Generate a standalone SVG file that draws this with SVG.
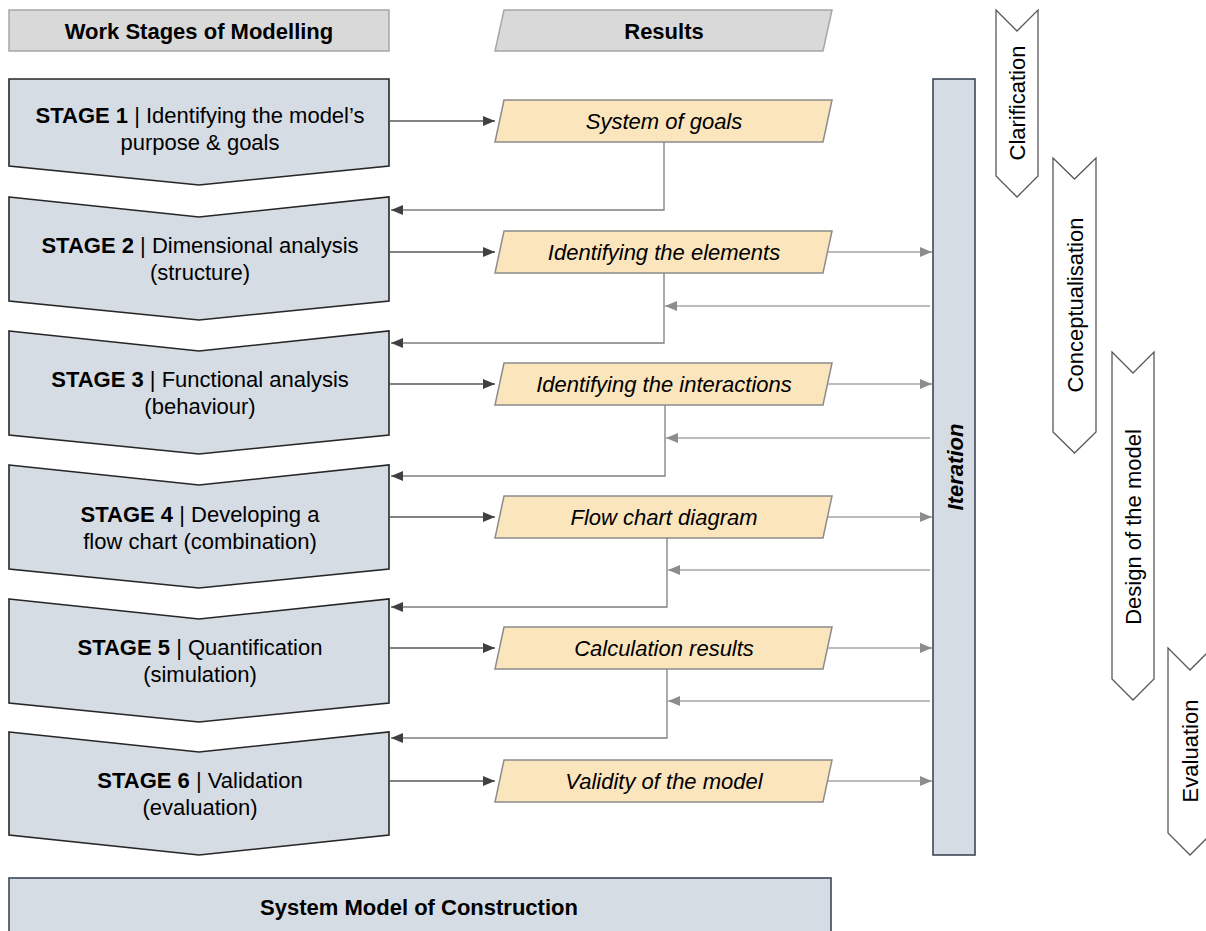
<svg xmlns="http://www.w3.org/2000/svg" width="1206" height="931" viewBox="0 0 1206 931">
  <defs>
    <style>
      text { font-family: "Liberation Sans", Arial, sans-serif; fill: #000; }
      .hdr { fill: #d9d9d9; stroke: #a6a6a6; stroke-width: 1.5; }
      .hdr-t { font-size: 22px; font-weight: bold; text-anchor: middle; }
      .stage { fill: #d6dce4; stroke: #262626; stroke-width: 1.6; stroke-linejoin: miter; }
      .st-t { font-size: 22px; text-anchor: middle; }
      .st-t tspan.b { font-weight: bold; }
      .res { fill: #fbe5bd; stroke: #8c8c8c; stroke-width: 1.5; }
      .res-t { font-size: 22px; font-style: italic; text-anchor: middle; }
      .iter { fill: #d6dce4; stroke: #3d4756; stroke-width: 1.6; }
      .phase { fill: #ffffff; stroke: #595959; stroke-width: 1.3; }
      .phase-t { font-size: 22px; text-anchor: middle; }
      .fwd { stroke: #595959; stroke-width: 1.3; fill: none; marker-end: url(#ahDark); }
      .ret { stroke: #7f7f7f; stroke-width: 1.3; fill: none; marker-end: url(#ahDark); }
      .itr { stroke: #a6a6a6; stroke-width: 1.3; fill: none; marker-end: url(#ahLight); }
    </style>
    <marker id="ahDark" markerUnits="userSpaceOnUse" markerWidth="13" markerHeight="11" refX="12" refY="5" orient="auto">
      <path d="M0,0 L12,5 L0,10 Z" fill="#404040"/>
    </marker>
    <marker id="ahLight" markerUnits="userSpaceOnUse" markerWidth="13" markerHeight="11" refX="12" refY="5" orient="auto">
      <path d="M0,0 L12,5 L0,10 Z" fill="#8c8c8c"/>
    </marker>
  </defs>

  <!-- column headers -->
  <g id="header-stages">
    <rect class="hdr" x="9" y="10" width="380" height="41"/>
    <text class="hdr-t" x="199" y="39">Work Stages of Modelling</text>
  </g>
  <g id="header-results">
    <polygon class="hdr" points="504,10 832,10 823,51 495,51"/>
    <text class="hdr-t" x="664" y="39">Results</text>
  </g>

  <!-- work stages -->
  <g id="stage1">
    <path class="stage" d="M9,79 H389 V166 L199,185 L9,166 Z"/>
    <text class="st-t" x="200" y="123"><tspan class="b">STAGE 1</tspan> | Identifying the model’s</text>
    <text class="st-t" x="200" y="150">purpose &amp; goals</text>
  </g>
  <g id="stage2">
    <path class="stage" d="M9,197 L199,217 L389,197 V301 L199,320 L9,301 Z"/>
    <text class="st-t" x="200" y="253"><tspan class="b">STAGE 2</tspan> | Dimensional analysis</text>
    <text class="st-t" x="200" y="280">(structure)</text>
  </g>
  <g id="stage3">
    <path class="stage" d="M9,331 L199,351 L389,331 V435 L199,454 L9,435 Z"/>
    <text class="st-t" x="200" y="387"><tspan class="b">STAGE 3</tspan> | Functional analysis</text>
    <text class="st-t" x="200" y="414">(behaviour)</text>
  </g>
  <g id="stage4">
    <path class="stage" d="M9,465 L199,485 L389,465 V569 L199,588 L9,569 Z"/>
    <text class="st-t" x="200" y="522"><tspan class="b">STAGE 4</tspan> | Developing a</text>
    <text class="st-t" x="200" y="549">flow chart (combination)</text>
  </g>
  <g id="stage5">
    <path class="stage" d="M9,599 L199,619 L389,599 V703 L199,722 L9,703 Z"/>
    <text class="st-t" x="200" y="655"><tspan class="b">STAGE 5</tspan> | Quantification</text>
    <text class="st-t" x="200" y="682">(simulation)</text>
  </g>
  <g id="stage6">
    <path class="stage" d="M9,732 L199,752 L389,732 V835 L199,855 L9,835 Z"/>
    <text class="st-t" x="200" y="788"><tspan class="b">STAGE 6</tspan> | Validation</text>
    <text class="st-t" x="200" y="815">(evaluation)</text>
  </g>

  <!-- results -->
  <g id="result1">
    <polygon class="res" points="504,100 832,100 823,142 495,142"/>
    <text class="res-t" x="664" y="129">System of goals</text>
  </g>
  <g id="result2">
    <polygon class="res" points="504,231 832,231 823,273 495,273"/>
    <text class="res-t" x="664" y="260">Identifying the elements</text>
  </g>
  <g id="result3">
    <polygon class="res" points="504,363 832,363 823,405 495,405"/>
    <text class="res-t" x="664" y="392">Identifying the interactions</text>
  </g>
  <g id="result4">
    <polygon class="res" points="504,496 832,496 823,538 495,538"/>
    <text class="res-t" x="664" y="525">Flow chart diagram</text>
  </g>
  <g id="result5">
    <polygon class="res" points="504,627 832,627 823,669 495,669"/>
    <text class="res-t" x="664" y="656">Calculation results</text>
  </g>
  <g id="result6">
    <polygon class="res" points="504,760 832,760 823,802 495,802"/>
    <text class="res-t" x="664" y="789">Validity of the model</text>
  </g>

  <!-- iteration bar -->
  <g id="iteration">
    <rect class="iter" x="933" y="79" width="42" height="776"/>
    <text transform="translate(963,467) rotate(-90)" style="font-size:22px;font-weight:bold;font-style:italic;text-anchor:middle">Iteration</text>
  </g>

  <!-- phases -->
  <g id="phase-clarification">
    <path class="phase" d="M996,10 L1017,31 L1038,10 V176 L1017,197 L996,176 Z"/>
    <text class="phase-t" transform="translate(1025,103) rotate(-90)">Clarification</text>
  </g>
  <g id="phase-conceptualisation">
    <path class="phase" d="M1053,158 L1074.5,179 L1096,158 V432 L1074.5,453 L1053,432 Z"/>
    <text class="phase-t" transform="translate(1083,305) rotate(-90)">Conceptualisation</text>
  </g>
  <g id="phase-design">
    <path class="phase" d="M1112,352 L1133,373 L1154,352 V679 L1133,700 L1112,679 Z"/>
    <text class="phase-t" transform="translate(1141,527) rotate(-90)">Design of the model</text>
  </g>
  <g id="phase-evaluation">
    <path class="phase" d="M1168,648 L1190,670 L1212,648 V833 L1190,855 L1168,833 Z"/>
    <text class="phase-t" transform="translate(1198,751) rotate(-90)">Evaluation</text>
  </g>

  <!-- final model -->
  <g id="system-model">
    <rect class="iter" x="9" y="878" width="822" height="70"/>
    <text class="hdr-t" x="419" y="915">System Model of Construction</text>
  </g>

  <!-- connectors -->
  <g id="connectors">
    <!-- stage to result -->
    <line class="fwd" x1="389" y1="121" x2="495" y2="121"/>
    <line class="fwd" x1="389" y1="252" x2="495" y2="252"/>
    <line class="fwd" x1="389" y1="384" x2="495" y2="384"/>
    <line class="fwd" x1="389" y1="517" x2="495" y2="517"/>
    <line class="fwd" x1="389" y1="648" x2="495" y2="648"/>
    <line class="fwd" x1="389" y1="781" x2="495" y2="781"/>

    <!-- result back to next stage -->
    <polyline class="ret" points="664,142 664,210 391,210"/>
    <polyline class="ret" points="664,273 664,343 391,343"/>
    <polyline class="ret" points="665,405 665,476 391,476"/>
    <polyline class="ret" points="667,538 667,607 391,607"/>
    <polyline class="ret" points="667,669 667,738 391,738"/>

    <!-- result to iteration -->
    <line class="itr" x1="828" y1="252" x2="932" y2="252"/>
    <line class="itr" x1="828" y1="384" x2="932" y2="384"/>
    <line class="itr" x1="828" y1="517" x2="932" y2="517"/>
    <line class="itr" x1="828" y1="648" x2="932" y2="648"/>
    <line class="itr" x1="828" y1="781" x2="932" y2="781"/>

    <!-- iteration feedback -->
    <line class="itr" x1="930" y1="306" x2="665" y2="306"/>
    <line class="itr" x1="930" y1="438" x2="666" y2="438"/>
    <line class="itr" x1="930" y1="570" x2="668" y2="570"/>
    <line class="itr" x1="930" y1="701" x2="668" y2="701"/>
  </g>
</svg>
